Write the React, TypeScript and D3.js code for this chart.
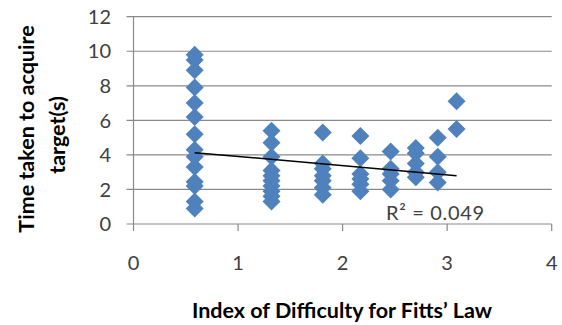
import React from "react";
import * as d3 from "d3";

const xTicks = [0, 1, 2, 3, 4];
const yTicks = [0, 2, 4, 6, 8, 10, 12];

const idValues = [0.585, 1.32, 1.81, 2.17, 2.46, 2.7, 2.91, 3.09];
const timesId1 = [9.8, 9.5, 8.9, 7.9, 7.0, 6.2, 5.2, 4.3, 3.9, 3.3, 2.45, 2.2, 1.3, 0.9];
const timesId2 = [5.4, 4.7, 3.9, 3.1, 2.8, 2.5, 2.2, 1.9, 1.6, 1.3];
const timesId3 = [5.3, 3.5, 3.2, 2.8, 2.5, 2.1, 1.7];
const timesId4 = [5.1, 3.8, 2.9, 2.6, 2.3, 1.9];
const timesId5 = [4.2, 3.2, 2.9, 2.5, 2.0];
const timesId6 = [4.4, 4.1, 3.5, 3.0, 2.7];
const timesId7 = [5.0, 3.9, 3.0, 2.4];
const timesId8 = [7.1, 5.5];
const timesByColumn = [timesId1, timesId2, timesId3, timesId4, timesId5, timesId6, timesId7, timesId8];

const trendIntercept = 4.44;
const trendSlope = -0.531;
const trendRange = [0.585, 3.09];
const r2Label = "R² = 0.049";

const xTitle = "Index of Difficulty for Fitts’ Law";
const yTitleLines = ["Time taken to acquire", "target(s)"];

export default function App() {
  const left = 133.5, right = 551.7, top = 16.7, bottom = 224;
  const x = d3.scaleLinear().domain([0, 4]).range([left, right]);
  const y = d3.scaleLinear().domain([0, 12]).range([bottom, top]);
  const points = timesByColumn.flatMap((arr, i) => arr.map((t) => ({ x: idValues[i], y: t })));
  const r = 9;
  const diamond = (cx: number, cy: number) =>
    `M${cx},${cy - r}L${cx + r},${cy}L${cx},${cy + r}L${cx - r},${cy}Z`;
  const line = d3.line<number>().x((d) => x(d)).y((d) => y(trendIntercept + trendSlope * d));
  const gridColor = "#8a8a8a";
  const font = "Lato, 'Open Sans', sans-serif";

  return (
    <svg width={562} height={325} style={{ position: "absolute", left: 0, top: 0, background: "#fff" }}>
      {yTicks.map((t) => (
        <g key={"y" + t}>
          <line x1={left - 7} x2={right} y1={y(t)} y2={y(t)} stroke={gridColor} strokeWidth={1.2} />
          <text x={111} y={y(t)} dy="0.36em" textAnchor="end" fontFamily={font} fontSize={20} fill="#404040">
            {t}
          </text>
        </g>
      ))}
      <line x1={left} x2={left} y1={top} y2={bottom} stroke={gridColor} strokeWidth={1.2} />
      {xTicks.map((t) => (
        <g key={"x" + t}>
          <line x1={x(t)} x2={x(t)} y1={bottom} y2={bottom + 7} stroke={gridColor} strokeWidth={1.2} />
          <text x={x(t)} y={263} dy="0.36em" textAnchor="middle" fontFamily={font} fontSize={20} fill="#404040">
            {t}
          </text>
        </g>
      ))}
      {points.map((p, i) => (
        <path key={i} d={diamond(x(p.x), y(p.y))} fill="#4f81bd" />
      ))}
      <path d={line(trendRange) || ""} stroke="#000" strokeWidth={1.5} fill="none" />
      <text x={386} y={213} dy="0.36em" fontFamily={font} fontSize={20} fill="#404040" textLength={98} lengthAdjust="spacing">
        {r2Label}
      </text>
      <text x={342} y={310} dy="0.36em" textAnchor="middle" fontFamily={font} fontSize={21.5} fontWeight="bold" fill="#000">
        {xTitle}
      </text>
      <g transform="translate(26,129) rotate(-90)">
        <text x={0} y={0} dy="0.36em" textAnchor="middle" fontFamily={font} fontSize={21.5} fontWeight="bold" fill="#000">
          {yTitleLines[0]}
        </text>
      </g>
      <g transform="translate(57,135) rotate(-90)">
        <text x={0} y={0} dy="0.36em" textAnchor="middle" fontFamily={font} fontSize={21.5} fontWeight="bold" fill="#000">
          {yTitleLines[1]}
        </text>
      </g>
    </svg>
  );
}
